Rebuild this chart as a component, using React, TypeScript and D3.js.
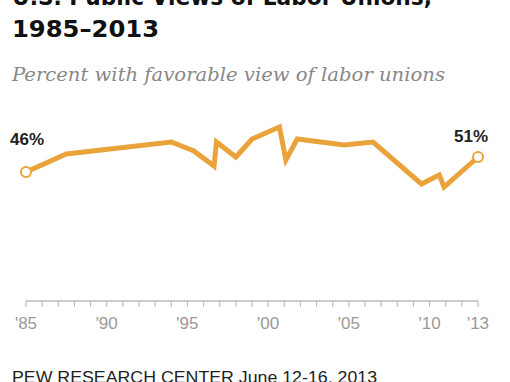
import React from "react";
import * as d3 from "d3";

const years: number[] = [1985.0, 1987.5, 1994.0, 1995.4, 1996.65, 1996.8, 1998.0, 1999.0, 2000.7, 2001.1, 2001.8, 2004.7, 2006.5, 2009.5, 2010.6, 2010.9, 2013.0];
const favorable: number[] = [46, 52, 56, 53, 48, 56, 51, 57, 61, 50, 57, 55, 56, 42, 45, 41, 51];
const tickYears: number[] = d3.range(1985, 2014);
const labelYears: number[] = [1985, 1990, 1995, 2000, 2005, 2010, 2013];
const labelTexts: string[] = ["'85", "'90", "'95", "'00", "'05", "'10", "'13"];

const titleLines: string[] = ["U.S. Public Views of Labor Unions,", "1985\u20132013"];
const subtitle = "Percent with favorable view of labor unions";
const source = "PEW RESEARCH CENTER June 12-16, 2013";

const ORANGE = "#eaa23a";

export default function App() {
  const x = d3.scaleLinear().domain([1985, 2013]).range([26, 478]);
  const y = d3.scaleLinear().domain([25, 65]).range([235, 115]);
  const data = years.map((yr, i) => ({ yr, v: favorable[i] }));
  const line = d3
    .line<{ yr: number; v: number }>()
    .x((d) => x(d.yr))
    .y((d) => y(d.v));
  const first = data[0];
  const last = data[data.length - 1];
  const axisY = 301;

  return (
    <div style={{ position: "fixed", left: 0, top: 0, width: 510, height: 382, background: "#fff" }}>
      <svg width={510} height={382} style={{ display: "block" }}>
        <rect width={510} height={382} fill="#fff" />
        <text x={12} y={5} fontFamily="DejaVu Sans" fontWeight="bold" fontSize={23} fill="#111" textLength={420} lengthAdjust="spacingAndGlyphs">
          {titleLines[0]}
        </text>
        <text x={12} y={37} fontFamily="DejaVu Sans" fontWeight="bold" fontSize={23} fill="#111" textLength={147} lengthAdjust="spacingAndGlyphs">
          {titleLines[1]}
        </text>
        <text x={12} y={81} fontFamily="DejaVu Serif" fontStyle="italic" fontSize={19} fill="#888" textLength={433} lengthAdjust="spacingAndGlyphs">
          {subtitle}
        </text>

        <path d={line(data) || ""} fill="none" stroke={ORANGE} strokeWidth={5} strokeLinejoin="miter" strokeLinecap="round" />
        <circle cx={x(first.yr)} cy={y(first.v)} r={5} fill="#fff" stroke={ORANGE} strokeWidth={2} />
        <circle cx={x(last.yr)} cy={y(last.v)} r={5} fill="#fff" stroke={ORANGE} strokeWidth={2} />
        <text x={10} y={145} fontFamily="Liberation Sans" fontWeight="bold" fontSize={16} fill="#222" textLength={34} lengthAdjust="spacingAndGlyphs">
          {`${first.v}%`}
        </text>
        <text x={454} y={142} fontFamily="Liberation Sans" fontWeight="bold" fontSize={16} fill="#222" textLength={34} lengthAdjust="spacingAndGlyphs">
          {`${last.v}%`}
        </text>

        <line x1={x(1985)} x2={x(2013)} y1={axisY} y2={axisY} stroke="#bdbdbd" strokeWidth={1.5} />
        {tickYears.map((t) => (
          <line key={t} x1={x(t)} x2={x(t)} y1={axisY} y2={axisY + 6} stroke="#bdbdbd" strokeWidth={1.2} />
        ))}
        {labelYears.map((t, i) => (
          <text key={t} x={x(t)} y={329} textAnchor="middle" fontFamily="Liberation Sans" fontSize={17} fill="#9a9a9a">
            {labelTexts[i]}
          </text>
        ))}

        <text x={12} y={383} fontFamily="Liberation Sans" fontSize={16} fill="#222" textLength={365} lengthAdjust="spacingAndGlyphs">
          {source}
        </text>
      </svg>
    </div>
  );
}
